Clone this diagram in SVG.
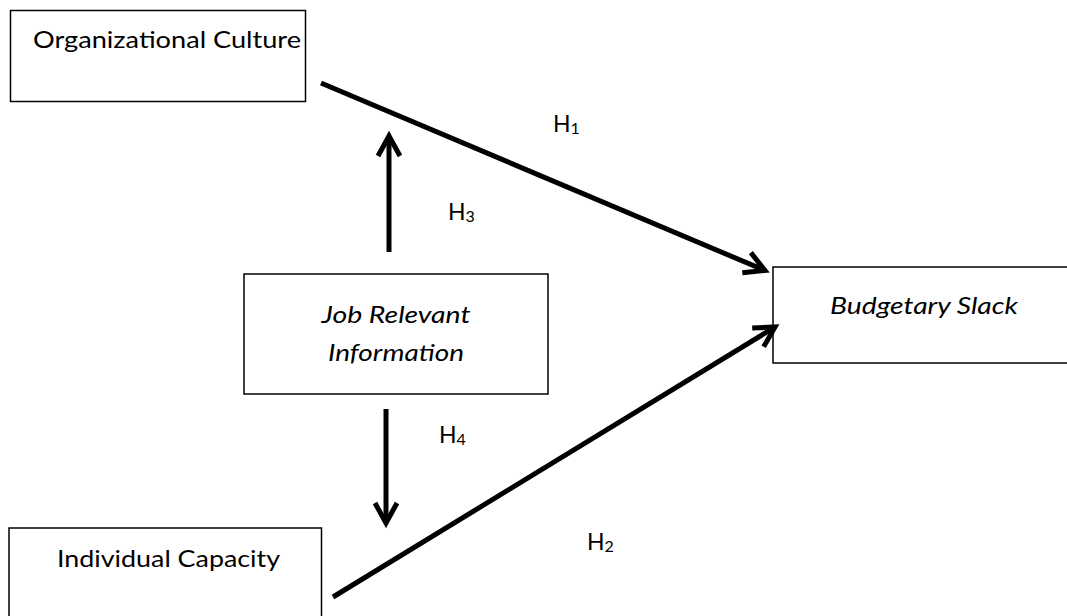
<svg xmlns="http://www.w3.org/2000/svg" width="1067" height="616" viewBox="0 0 1067 616">
  <defs>
    <style>
      .box { fill: #ffffff; stroke: #000000; stroke-width: 1.5; }
      .lbl { font-family: Lato, "Liberation Sans", sans-serif; font-size: 23px; fill: #000000; }
      .it { font-style: italic; }
      .sub { font-size: 16px; }
      .conn { stroke: #000000; stroke-width: 5; fill: none; }
    </style>
    <marker id="head" markerUnits="userSpaceOnUse" markerWidth="40" markerHeight="40" refX="0" refY="0" orient="auto" overflow="visible" viewBox="-30 -20 40 40">
      <path d="M-20,-11 L0,0 L-20,11" fill="none" stroke="#000000" stroke-width="5" stroke-linejoin="miter" stroke-linecap="butt"/>
    </marker>
  </defs>
  <rect x="0" y="0" width="1067" height="616" fill="#ffffff"/>

  <g id="organizational-culture">
    <rect class="box" x="10.5" y="10.5" width="295" height="91"/>
    <text class="lbl" x="33" y="48" textLength="268" lengthAdjust="spacingAndGlyphs">Organizational Culture</text>
  </g>

  <g id="job-relevant-information">
    <rect class="box" x="244" y="274" width="304" height="120"/>
    <text class="lbl it" x="396" y="323" text-anchor="middle" textLength="149" lengthAdjust="spacingAndGlyphs">Job Relevant</text>
    <text class="lbl it" x="396" y="361" text-anchor="middle" textLength="136" lengthAdjust="spacingAndGlyphs">Information</text>
  </g>

  <g id="budgetary-slack">
    <rect class="box" x="773" y="267" width="310" height="96"/>
    <text class="lbl it" x="830" y="314" textLength="188" lengthAdjust="spacingAndGlyphs">Budgetary Slack</text>
  </g>

  <g id="individual-capacity">
    <rect class="box" x="9" y="528" width="312.5" height="110"/>
    <text class="lbl" x="57" y="567" textLength="223" lengthAdjust="spacingAndGlyphs">Individual Capacity</text>
  </g>

  <g id="connectors">
    <line class="conn" x1="321" y1="83" x2="765" y2="270.5" marker-end="url(#head)"/>
    <line class="conn" x1="389" y1="252" x2="389" y2="136" marker-end="url(#head)"/>
    <line class="conn" x1="386" y1="409" x2="386" y2="523" marker-end="url(#head)"/>
    <line class="conn" x1="333" y1="597" x2="775" y2="327" marker-end="url(#head)"/>
  </g>

  <g id="labels">
    <text class="lbl" x="553" y="132">H<tspan class="sub" dy="2">1</tspan></text>
    <text class="lbl" x="448" y="220">H<tspan class="sub" dy="2">3</tspan></text>
    <text class="lbl" x="439" y="443">H<tspan class="sub" dy="2">4</tspan></text>
    <text class="lbl" x="587" y="550">H<tspan class="sub" dy="2">2</tspan></text>
  </g>
</svg>
